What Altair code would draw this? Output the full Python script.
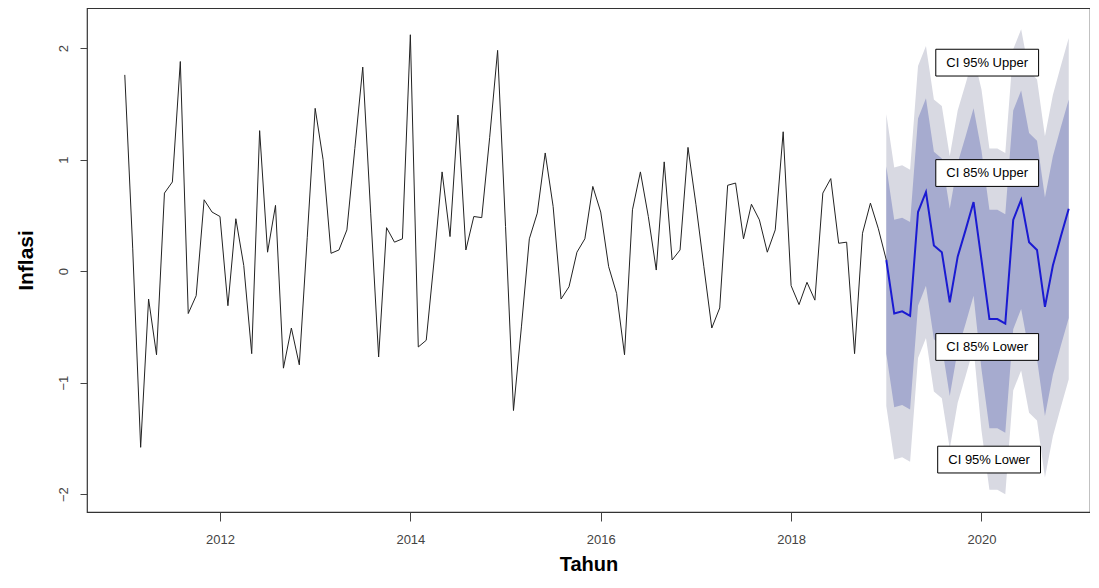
import altair as alt
import pandas as pd

# ---- data ----
hist_values = [
    1.76, 0.20, -1.58, -0.25, -0.75, 0.70, 0.80, 1.88, -0.38, -0.22, 0.64, 0.53,
    0.49, -0.31, 0.47, 0.05, -0.74, 1.26, 0.17, 0.59, -0.87, -0.51, -0.84, 0.30,
    1.46, 1.00, 0.16, 0.19, 0.37, 1.10, 1.83, 0.52, -0.77, 0.39, 0.26, 0.29,
    2.12, -0.68, -0.62, 0.10, 0.89, 0.31, 1.40, 0.19, 0.49, 0.48, 1.20, 1.98,
    0.40, -1.25, -0.50, 0.29, 0.52, 1.06, 0.58, -0.25, -0.14, 0.17, 0.29, 0.76,
    0.53, 0.04, -0.20, -0.75, 0.55, 0.89, 0.49, 0.01, 0.98, 0.10, 0.19, 1.11,
    0.60, 0.04, -0.51, -0.33, 0.77, 0.79, 0.29, 0.60, 0.46, 0.17, 0.37, 1.25,
    -0.13, -0.30, -0.10, -0.26, 0.70, 0.83, 0.25, 0.26, -0.74, 0.34, 0.61, 0.38,
    0.10,
]
hist_start = 2011

fc_mean = [0.10, -0.38, -0.36, -0.40, 0.53, 0.71, 0.23, 0.17, -0.28, 0.13, 0.37, 0.62,
           0.10, -0.43, -0.43, -0.47, 0.46, 0.64, 0.26, 0.19, -0.32, 0.05, 0.31, 0.56]
fc_hi85 = [0.94, 0.46, 0.48, 0.44, 1.37, 1.55, 1.07, 1.01, 0.56, 0.97, 1.21, 1.46,
           1.08, 0.55, 0.55, 0.51, 1.44, 1.62, 1.24, 1.17, 0.66, 1.03, 1.29, 1.54]
fc_lo85 = [-0.74, -1.22, -1.20, -1.24, -0.31, -0.13, -0.61, -0.67, -1.12, -0.71, -0.47, -0.22,
           -0.88, -1.41, -1.41, -1.45, -0.52, -0.34, -0.72, -0.79, -1.30, -0.93, -0.67, -0.42]
fc_hi95 = [1.41, 0.93, 0.95, 0.91, 1.84, 2.02, 1.54, 1.48, 1.03, 1.44, 1.68, 1.93,
           1.63, 1.10, 1.10, 1.06, 1.99, 2.17, 1.79, 1.72, 1.21, 1.58, 1.84, 2.09]
fc_lo95 = [-1.21, -1.69, -1.67, -1.71, -0.78, -0.60, -1.08, -1.14, -1.59, -1.18, -0.94, -0.69,
           -1.43, -1.96, -1.96, -2.00, -1.07, -0.89, -1.27, -1.34, -1.85, -1.48, -1.22, -0.97]
fc_start = 2019

x_ticks = [2012, 2014, 2016, 2018, 2020]
y_ticks = [-2, -1, 0, 1, 2]

ann_labels = ["CI 95% Upper", "CI 85% Upper", "CI 85% Lower", "CI 95% Lower"]
ann_x = [2020.06, 2020.06, 2020.06, 2020.08]
ann_y = [1.87, 0.88, -0.68, -1.69]
ann_halfw = 0.54
ann_halfh = 0.12

# ---- tables ----
hist = pd.DataFrame({"t": [hist_start + i / 12 for i in range(len(hist_values))],
                     "v": hist_values})
fc = pd.DataFrame({"t": [fc_start + i / 12 for i in range(len(fc_mean))],
                   "m": fc_mean, "lo85": fc_lo85, "hi85": fc_hi85,
                   "lo95": fc_lo95, "hi95": fc_hi95})
ann = pd.DataFrame({"label": ann_labels, "x": ann_x, "y": ann_y})
ann["x1"] = ann["x"] - ann_halfw
ann["x2"] = ann["x"] + ann_halfw
ann["y1"] = ann["y"] - ann_halfh
ann["y2"] = ann["y"] + ann_halfh

xscale = alt.Scale(domain=[2010.603, 2021.14], nice=False, zero=False)
yscale = alt.Scale(domain=[-2.16, 2.36], nice=False, zero=False)

xax = alt.Axis(values=x_ticks, format="d", title="Tahun", grid=False,
               tickSize=9, labelPadding=12, labelFontSize=13, labelColor="#444",
               titleFontSize=20, titleFontWeight="bold", titlePadding=8,
               domain=False, tickColor="#444", labelFont="Liberation Sans",
               titleFont="Liberation Sans", titleColor="black")
yax = alt.Axis(values=y_ticks, format="d", title="Inflasi", grid=False,
               tickSize=7, labelAngle=270, labelAlign="center", labelBaseline="bottom",
               labelPadding=10, labelFontSize=13, labelColor="#444",
               titleFontSize=21, titleFontWeight="bold", titlePadding=21,
               domain=False, tickColor="#444", labelFont="Liberation Sans",
               titleFont="Liberation Sans", titleColor="black")

base_fc = alt.Chart(fc)

band95 = base_fc.mark_area(color="#d8d9e2", opacity=1).encode(
    x=alt.X("t:Q", scale=xscale, axis=xax),
    y=alt.Y("lo95:Q", scale=yscale, axis=yax),
    y2="hi95:Q",
)
band85 = base_fc.mark_area(color="#a6abcf", opacity=1).encode(
    x=alt.X("t:Q", scale=xscale),
    y=alt.Y("lo85:Q", scale=yscale),
    y2="hi85:Q",
)
hist_line = alt.Chart(hist).mark_line(color="#222222", strokeWidth=1).encode(
    x=alt.X("t:Q", scale=xscale),
    y=alt.Y("v:Q", scale=yscale),
)
fc_line = base_fc.mark_line(color="#1a1ad2", strokeWidth=2).encode(
    x=alt.X("t:Q", scale=xscale),
    y=alt.Y("m:Q", scale=yscale),
)
ann_box = alt.Chart(ann).mark_rect(fill="white", stroke="black", strokeWidth=1).encode(
    x=alt.X("x1:Q", scale=xscale), x2="x2:Q",
    y=alt.Y("y1:Q", scale=yscale), y2="y2:Q",
)
ann_text = alt.Chart(ann).mark_text(fontSize=13, font="Liberation Sans", color="black").encode(
    x=alt.X("x:Q", scale=xscale),
    y=alt.Y("y:Q", scale=yscale),
    text="label:N",
)

chart = alt.layer(band95, band85, hist_line, fc_line, ann_box, ann_text).properties(
    width=1003, height=504,
    background="white",
    autosize=alt.AutoSizeParams(type="none"),
    padding={"left": 79, "top": 0, "right": 0, "bottom": 66},
).configure_view(stroke="#333333", strokeWidth=1.2)

chart.save("out.html", embed_options={"renderer": "svg", "actions": False})
